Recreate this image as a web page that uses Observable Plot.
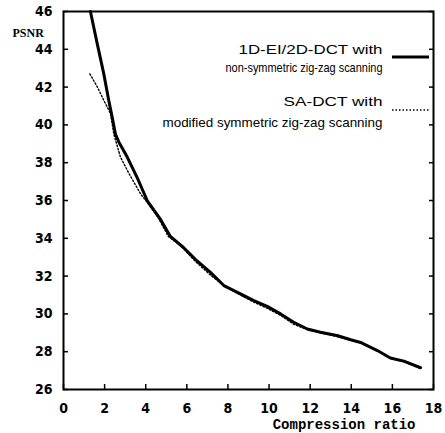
<!DOCTYPE html>
<html><head><meta charset="utf-8">
<script src="https://cdn.jsdelivr.net/npm/d3@7"></script>
<script src="https://cdn.jsdelivr.net/npm/@observablehq/plot@0.6"></script>
<style>body{margin:0;background:#fff}</style>
</head><body><div id="chart"></div>
<script>
// Series: 1D-EI/2D-DCT with non-symmetric zig-zag scanning (solid)
const solidRatio = [1.31, 1.64, 1.96, 2.2, 2.37, 2.53, 2.69, 3.1, 3.59, 4.07, 4.72, 5.2, 5.85, 6.5, 7.15, 7.8, 8.61, 9.26, 9.91, 10.56, 11.2, 11.86, 12.5, 13.3, 13.97, 14.5, 15.27, 15.9, 16.56, 17.37];
const solidPSNR  = [46.0, 44.3, 42.7, 41.3, 40.4, 39.5, 39.1, 38.3, 37.2, 36.0, 35.0, 34.1, 33.5, 32.8, 32.2, 31.5, 31.06, 30.7, 30.4, 30.0, 29.56, 29.2, 29.03, 28.86, 28.63, 28.47, 28.06, 27.67, 27.5, 27.15];
// Series: SA-DCT with modified symmetric zig-zag scanning (dotted)
const dottedRatio = [1.28, 1.65, 1.96, 2.29, 2.45, 2.77, 3.2, 3.75, 4.0, 4.6, 5.1, 5.7, 6.4, 7.1, 7.8, 8.6, 9.3, 9.9, 10.6, 11.2, 11.9, 12.5, 13.3, 14.0, 14.5, 15.3, 15.9, 16.6, 17.3];
const dottedPSNR  = [42.7, 42.0, 41.3, 40.6, 39.5, 38.3, 37.4, 36.35, 36.0, 35.1, 34.1, 33.6, 32.8, 32.1, 31.5, 31.0, 30.6, 30.3, 29.9, 29.45, 29.15, 29.0, 28.8, 28.6, 28.45, 28.05, 27.65, 27.45, 27.15];

const xTicks = [0, 2, 4, 6, 8, 10, 12, 14, 16, 18];
const yTicks = [26, 28, 30, 32, 34, 36, 38, 40, 42, 44, 46];
const legendLines = ["1D-EI/2D-DCT with", "non-symmetric zig-zag scanning", "SA-DCT with", "modified symmetric zig-zag scanning"];
const xLabel = "Compression ratio";
const yLabel = "PSNR";

const solid = solidRatio.map((x, i) => ({x, y: solidPSNR[i]}));
const dotted = dottedRatio.map((x, i) => ({x, y: dottedPSNR[i]}));

const tickFont = {fontFamily: "'DejaVu Sans Condensed', 'DejaVu Sans', sans-serif", fontSize: 14, fontWeight: "bold"};
const legendFont = {fontFamily: "'Liberation Sans', Arial, sans-serif", fontSize: 13.5};
const legendDy = [42, 60, 94, 115];
const legendWidths = [144, 157, 99, 220];

const legendKeys = (index, scales, values, dim) => {
  const g = d3.create("svg:g");
  const right = dim.width - dim.marginRight;
  g.append("line").attr("x1", right - 41).attr("x2", right - 4).attr("y1", dim.marginTop + 46).attr("y2", dim.marginTop + 46)
    .attr("stroke", "black").attr("stroke-width", 3);
  g.append("line").attr("x1", right - 41).attr("x2", right - 4).attr("y1", dim.marginTop + 99).attr("y2", dim.marginTop + 99)
    .attr("stroke", "black").attr("stroke-width", 1.3).attr("stroke-dasharray", "1.5,2");
  return g.node();
};

const chart = Plot.plot({
  width: 445, height: 433,
  marginLeft: 63, marginRight: 12, marginTop: 11, marginBottom: 44,
  x: {domain: [0, 18]},
  y: {domain: [26, 46]},
  style: {background: "#fff", color: "#000"},
  marks: [
    Plot.frame({stroke: "#000", strokeWidth: 2}),
    Plot.axisX({ticks: xTicks, tickSize: -5, tickPadding: 19, label: null, strokeWidth: 1.5, ...tickFont}),
    Plot.axisY({ticks: yTicks, tickSize: -5, tickPadding: 16, label: null, strokeWidth: 1.5, ...tickFont}),
    Plot.axisY({anchor: "right", ticks: yTicks, tickSize: -5, tickFormat: () => "", label: null, strokeWidth: 1.5}),
    Plot.line(dotted, {x: "x", y: "y", stroke: "#000", strokeWidth: 1.4, strokeDasharray: "1.5,2"}),
    Plot.line(solid, {x: "x", y: "y", stroke: "#000", strokeWidth: 3}),
    Plot.text([yLabel], {frameAnchor: "top-left", dx: -51, dy: 17, textAnchor: "start", fontFamily: "'Liberation Serif', serif", fontWeight: "bold", fontSize: 12, text: d => d, letterSpacing: "1.5px"}),
    Plot.text([xLabel], {frameAnchor: "bottom-right", dx: -18, dy: 39, textAnchor: "end", lineAnchor: "bottom", fontFamily: "'Liberation Mono', monospace", fontWeight: "bold", fontSize: 14, text: d => d}),
    ...legendLines.map((t, i) => Plot.text([t], {frameAnchor: "top-right", dx: -51, dy: legendDy[i], textAnchor: "end", lineAnchor: "bottom", text: d => d, ...legendFont})),
    legendKeys
  ]
});
d3.select(chart).selectAll("text").each(function () {
  const i = legendLines.indexOf(this.textContent);
  if (i >= 0) d3.select(this).attr("textLength", legendWidths[i]).attr("lengthAdjust", "spacingAndGlyphs");
});
document.getElementById("chart").append(chart);
</script></body></html>
